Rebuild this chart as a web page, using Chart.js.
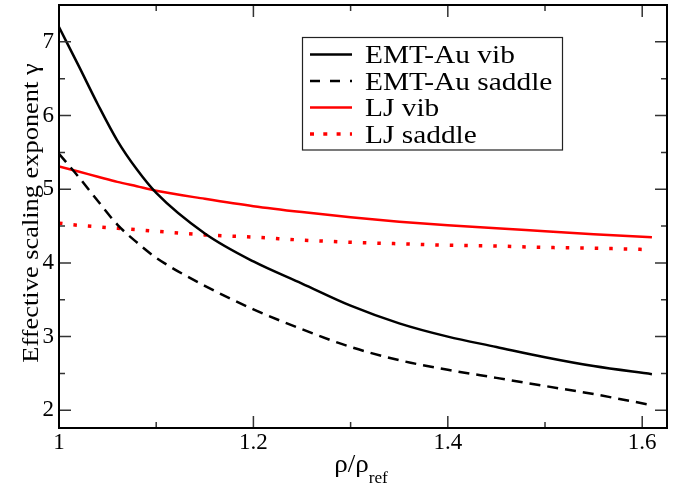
<!DOCTYPE html>
<html>
<head>
<meta charset="utf-8">
<script src="https://cdn.jsdelivr.net/npm/chart.js@4.4.0/dist/chart.umd.min.js"></script>
<style>
body{margin:0;background:#fff;}
#wrap{width:683px;height:487px;}
</style>
</head>
<body>
<div id="wrap"><canvas id="grafica" width="683" height="487"></canvas></div>
<script>
// valores
var rho       = [1.00, 1.02, 1.04, 1.06, 1.08, 1.10, 1.15, 1.20, 1.25, 1.30, 1.35, 1.40, 1.45, 1.50, 1.55, 1.61];
var emtVib    = [7.20, 6.68, 6.15, 5.66, 5.27, 4.95, 4.40, 4.02, 3.72, 3.42, 3.18, 3.00, 2.86, 2.72, 2.60, 2.49];
var emtSaddle = [5.48, 5.17, 4.84, 4.52, 4.28, 4.07, 3.69, 3.37, 3.10, 2.86, 2.68, 2.55, 2.44, 2.33, 2.22, 2.07];
var ljVib     = [5.31, 5.24, 5.17, 5.10, 5.04, 4.98, 4.87, 4.77, 4.69, 4.62, 4.56, 4.51, 4.47, 4.43, 4.39, 4.35];
var ljSaddle  = [4.54, 4.51, 4.49, 4.47, 4.45, 4.43, 4.38, 4.35, 4.31, 4.28, 4.26, 4.24, 4.23, 4.21, 4.20, 4.18];

var etiquetas = ["EMT-Au vib", "EMT-Au saddle", "LJ vib", "LJ saddle"];
var xTicks = [1, 1.2, 1.4, 1.6];
var xMenores = [1.1, 1.3, 1.5];
var yTicks = [2, 3, 4, 5, 6, 7];
var yMenores = [2.5, 3.5, 4.5, 5.5, 6.5];

var fuente = "'Liberation Serif','Times New Roman',serif";

function puntos(ys){
	return rho.map(function(x, i){ return {x: x, y: ys[i]}; });
}

// texto algo mas ancho, como en la figura original
function textoAncho(ctx, txt, x, y, esc){
	ctx.save();
	ctx.translate(x, y);
	ctx.scale(esc, 1);
	ctx.fillText(txt, 0, 0);
	ctx.restore();
}

var marco = {
	id: 'marco',
	afterDraw: function(chart){
		var ctx = chart.ctx, a = chart.chartArea;
		var sx = chart.scales.x, sy = chart.scales.y;
		ctx.save();
		// marcas hacia adentro
		ctx.strokeStyle = '#333';
		ctx.lineWidth = 1.5;
		ctx.beginPath();
		function marcaX(v, largo){
			var p = sx.getPixelForValue(v);
			ctx.moveTo(p, a.bottom); ctx.lineTo(p, a.bottom - largo);
			ctx.moveTo(p, a.top); ctx.lineTo(p, a.top + largo);
		}
		function marcaY(v, largo){
			var p = sy.getPixelForValue(v);
			ctx.moveTo(a.left, p); ctx.lineTo(a.left + largo, p);
			ctx.moveTo(a.right, p); ctx.lineTo(a.right - largo, p);
		}
		xTicks.forEach(function(v){ marcaX(v, 12); });
		xMenores.forEach(function(v){ marcaX(v, 6); });
		yTicks.forEach(function(v){ marcaY(v, 12); });
		yMenores.forEach(function(v){ marcaY(v, 6); });
		ctx.stroke();

		ctx.strokeStyle = '#000';
		ctx.lineWidth = 2;
		ctx.strokeRect(a.left, a.top, a.right - a.left, a.bottom - a.top);

		// leyenda
		var lx = 302.5, ly = 37.5, lw = 260, lh = 112.5;
		ctx.fillStyle = '#fff';
		ctx.fillRect(lx, ly, lw, lh);
		ctx.lineWidth = 1.2;
		ctx.strokeStyle = '#222';
		ctx.strokeRect(lx, ly, lw, lh);
		ctx.font = '26px ' + fuente;
		ctx.textBaseline = 'alphabetic';
		ctx.textAlign = 'left';
		chart.data.datasets.forEach(function(ds, i){
			var y = 54.5 + i * 26.5;
			ctx.beginPath();
			ctx.setLineDash(ds.legendDash || []);
			ctx.strokeStyle = ds.borderColor;
			ctx.lineWidth = ds.borderWidth;
			ctx.moveTo(310, y);
			ctx.lineTo(352, y);
			ctx.stroke();
			ctx.setLineDash([]);
			ctx.fillStyle = '#000';
			textoAncho(ctx, ds.label, 365, y + 8.5, 1.13);
		});

		// titulos de ejes
		ctx.fillStyle = '#000';
		ctx.save();
		ctx.translate(38, 213);
		ctx.rotate(-Math.PI / 2);
		ctx.textAlign = 'center';
		ctx.textBaseline = 'alphabetic';
		ctx.font = '24px ' + fuente;
		ctx.scale(1.1, 1);
		ctx.fillText('Effective scaling exponent \u03b3', 0, 0);
		ctx.restore();

		ctx.textAlign = 'left';
		ctx.textBaseline = 'alphabetic';
		ctx.font = '25px ' + fuente;
		var t1 = '\u03c1/\u03c1';
		var w1 = ctx.measureText(t1).width * 1.08;
		ctx.font = '16px ' + fuente;
		var w2 = ctx.measureText('ref').width * 1.08;
		var x0 = 361 - (w1 + w2) / 2;
		ctx.font = '25px ' + fuente;
		textoAncho(ctx, t1, x0, 472, 1.08);
		ctx.font = '16px ' + fuente;
		textoAncho(ctx, 'ref', x0 + w1, 482.5, 1.08);
		ctx.restore();
	}
};

var grafica = new Chart(document.getElementById("grafica"), {
	type: 'line',
	data: {
		datasets: [
			{ label: etiquetas[0], data: puntos(emtVib), borderColor: '#000', borderWidth: 2.5 },
			{ label: etiquetas[1], data: puntos(emtSaddle), borderColor: '#000', borderWidth: 2.5, borderDash: [11, 7], legendDash: [10, 10] },
			{ label: etiquetas[2], data: puntos(ljVib), borderColor: '#ff0000', borderWidth: 2.5 },
			{ label: etiquetas[3], data: puntos(ljSaddle), borderColor: '#ff0000', borderWidth: 3.5, borderDash: [3.5, 11], legendDash: [4, 9.3] }
		]
	},
	options: {
		responsive: false,
		animation: false,
		layout: { padding: { left: 0, right: 16, top: 5, bottom: 0 } },
		elements: {
			point: { radius: 0 },
			line: { cubicInterpolationMode: 'monotone', borderCapStyle: 'butt' }
		},
		plugins: {
			legend: { display: false },
			tooltip: { enabled: false }
		},
		scales: {
			x: {
				type: 'linear',
				min: 1, max: 1.6255,
				grid: { display: false, drawTicks: false },
				border: { display: false },
				afterBuildTicks: function(s){ s.ticks = xTicks.map(function(v){ return {value: v}; }); },
				afterFit: function(s){ s.height = 59; s.paddingLeft = 0; s.paddingRight = 0; },
				ticks: { color: '#000', padding: 1, maxRotation: 0, font: { family: fuente, size: 23 },
					callback: function(v){ return String(v); } }
			},
			y: {
				type: 'linear',
				min: 1.76, max: 7.5,
				grid: { display: false, drawTicks: false },
				border: { display: false },
				afterBuildTicks: function(s){ s.ticks = yTicks.map(function(v){ return {value: v}; }); },
				afterFit: function(s){ s.width = 59; s.paddingTop = 0; s.paddingBottom = 0; },
				ticks: { color: '#000', padding: 5, font: { family: fuente, size: 23 } }
			}
		}
	},
	plugins: [marco]
});
</script>
</body>
</html>
